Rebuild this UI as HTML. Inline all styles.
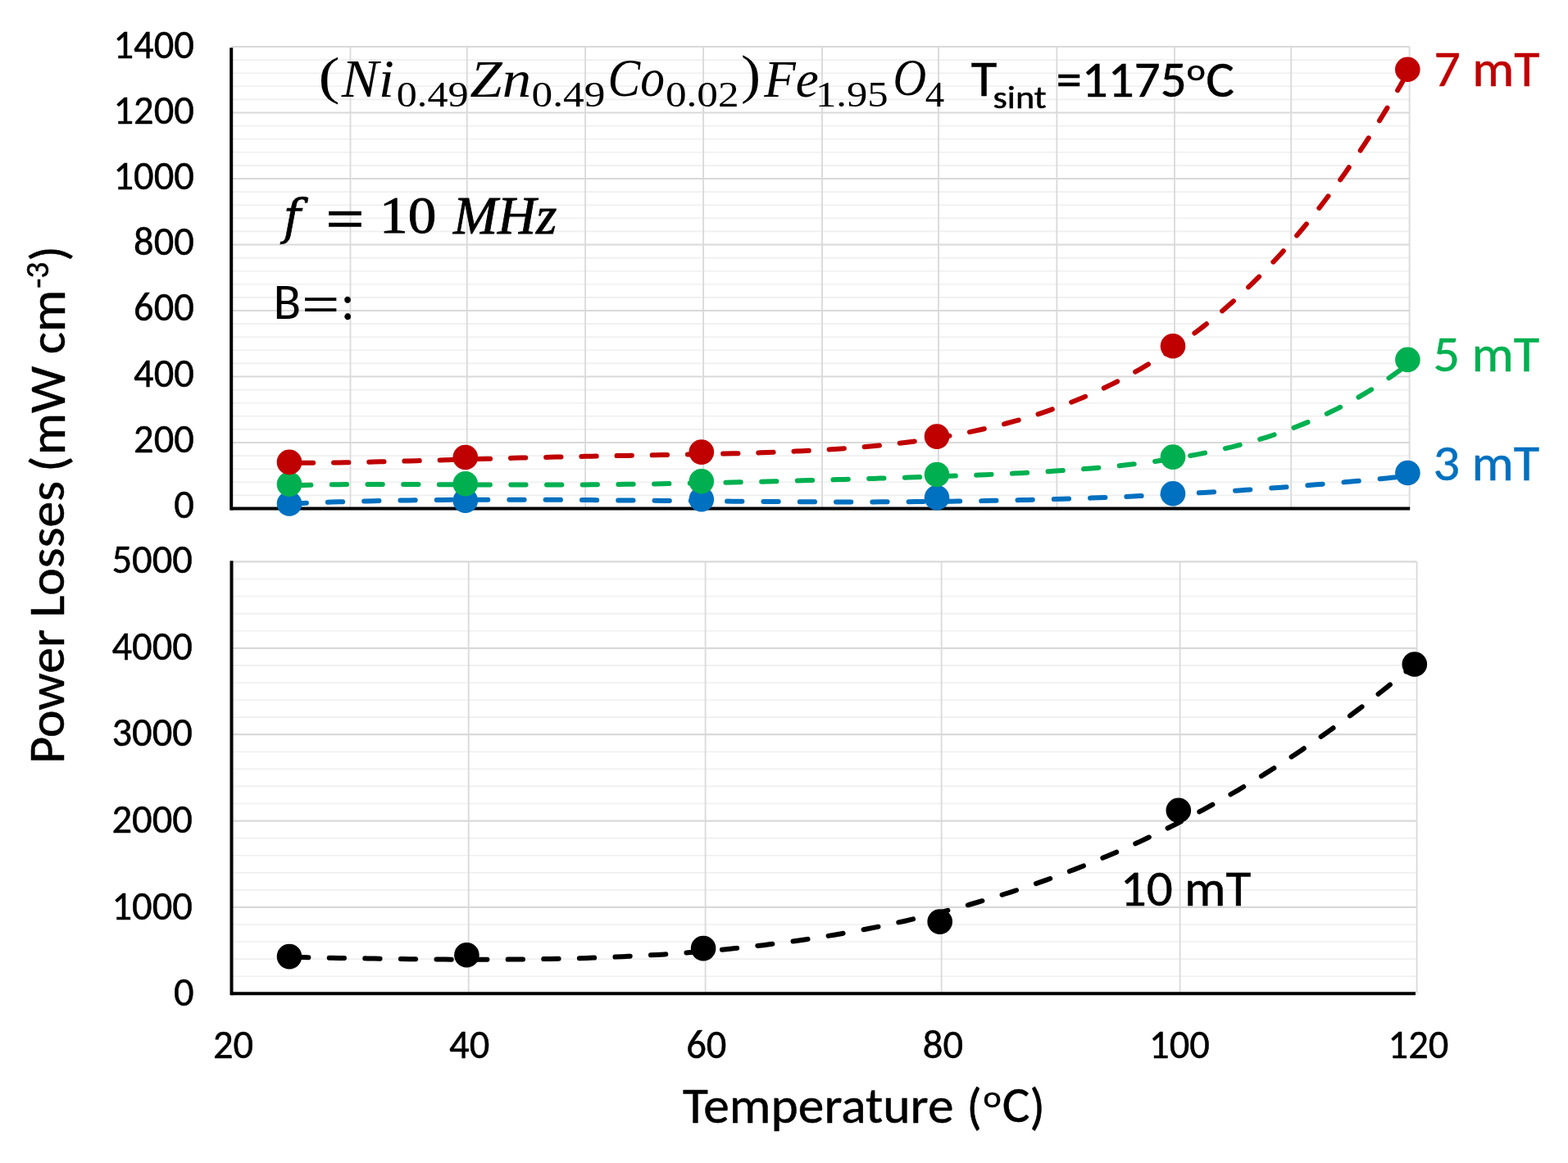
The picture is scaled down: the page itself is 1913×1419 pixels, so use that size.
<!DOCTYPE html>
<html><head><meta charset="utf-8"><title>Power Losses vs Temperature</title>
<style>
html,body{margin:0;padding:0;background:#fff;overflow:hidden}
svg{display:block}
text{font-family:Carlito,"Liberation Sans",sans-serif;stroke-width:0.5px}
.c{font-family:Carlito,"Liberation Sans",sans-serif}
.m{font-family:"Liberation Serif",serif;font-style:italic;stroke-width:0}
.u{font-family:"Liberation Serif",serif;font-style:normal;stroke-width:0}
.d{font-family:"DejaVu Serif",serif;font-style:normal;stroke-width:0}
.ls{font-family:"Liberation Sans",sans-serif}
</style></head><body>
<svg width="1913" height="1419" viewBox="0 0 1913 1419">
<rect width="1913" height="1419" fill="#fff"/>
<line x1="282.2" y1="604.40" x2="1719.6" y2="604.40" stroke="#efefef" stroke-width="1.6"/>
<line x1="282.2" y1="588.30" x2="1719.6" y2="588.30" stroke="#efefef" stroke-width="1.6"/>
<line x1="282.2" y1="572.20" x2="1719.6" y2="572.20" stroke="#efefef" stroke-width="1.6"/>
<line x1="282.2" y1="556.10" x2="1719.6" y2="556.10" stroke="#efefef" stroke-width="1.6"/>
<line x1="282.2" y1="523.90" x2="1719.6" y2="523.90" stroke="#efefef" stroke-width="1.6"/>
<line x1="282.2" y1="507.80" x2="1719.6" y2="507.80" stroke="#efefef" stroke-width="1.6"/>
<line x1="282.2" y1="491.70" x2="1719.6" y2="491.70" stroke="#efefef" stroke-width="1.6"/>
<line x1="282.2" y1="475.60" x2="1719.6" y2="475.60" stroke="#efefef" stroke-width="1.6"/>
<line x1="282.2" y1="443.40" x2="1719.6" y2="443.40" stroke="#efefef" stroke-width="1.6"/>
<line x1="282.2" y1="427.30" x2="1719.6" y2="427.30" stroke="#efefef" stroke-width="1.6"/>
<line x1="282.2" y1="411.20" x2="1719.6" y2="411.20" stroke="#efefef" stroke-width="1.6"/>
<line x1="282.2" y1="395.10" x2="1719.6" y2="395.10" stroke="#efefef" stroke-width="1.6"/>
<line x1="282.2" y1="362.90" x2="1719.6" y2="362.90" stroke="#efefef" stroke-width="1.6"/>
<line x1="282.2" y1="346.80" x2="1719.6" y2="346.80" stroke="#efefef" stroke-width="1.6"/>
<line x1="282.2" y1="330.70" x2="1719.6" y2="330.70" stroke="#efefef" stroke-width="1.6"/>
<line x1="282.2" y1="314.60" x2="1719.6" y2="314.60" stroke="#efefef" stroke-width="1.6"/>
<line x1="282.2" y1="282.40" x2="1719.6" y2="282.40" stroke="#efefef" stroke-width="1.6"/>
<line x1="282.2" y1="266.30" x2="1719.6" y2="266.30" stroke="#efefef" stroke-width="1.6"/>
<line x1="282.2" y1="250.20" x2="1719.6" y2="250.20" stroke="#efefef" stroke-width="1.6"/>
<line x1="282.2" y1="234.10" x2="1719.6" y2="234.10" stroke="#efefef" stroke-width="1.6"/>
<line x1="282.2" y1="201.90" x2="1719.6" y2="201.90" stroke="#efefef" stroke-width="1.6"/>
<line x1="282.2" y1="185.80" x2="1719.6" y2="185.80" stroke="#efefef" stroke-width="1.6"/>
<line x1="282.2" y1="169.70" x2="1719.6" y2="169.70" stroke="#efefef" stroke-width="1.6"/>
<line x1="282.2" y1="153.60" x2="1719.6" y2="153.60" stroke="#efefef" stroke-width="1.6"/>
<line x1="282.2" y1="121.40" x2="1719.6" y2="121.40" stroke="#efefef" stroke-width="1.6"/>
<line x1="282.2" y1="105.30" x2="1719.6" y2="105.30" stroke="#efefef" stroke-width="1.6"/>
<line x1="282.2" y1="89.20" x2="1719.6" y2="89.20" stroke="#efefef" stroke-width="1.6"/>
<line x1="282.2" y1="73.10" x2="1719.6" y2="73.10" stroke="#efefef" stroke-width="1.6"/>
<line x1="427.50" y1="57.0" x2="427.50" y2="620.5" stroke="#d9d9d9" stroke-width="1.8"/>
<line x1="569.80" y1="57.0" x2="569.80" y2="620.5" stroke="#d9d9d9" stroke-width="1.8"/>
<line x1="714.10" y1="57.0" x2="714.10" y2="620.5" stroke="#d9d9d9" stroke-width="1.8"/>
<line x1="858.10" y1="57.0" x2="858.10" y2="620.5" stroke="#d9d9d9" stroke-width="1.8"/>
<line x1="1003.00" y1="57.0" x2="1003.00" y2="620.5" stroke="#d9d9d9" stroke-width="1.8"/>
<line x1="1145.00" y1="57.0" x2="1145.00" y2="620.5" stroke="#d9d9d9" stroke-width="1.8"/>
<line x1="1289.40" y1="57.0" x2="1289.40" y2="620.5" stroke="#d9d9d9" stroke-width="1.8"/>
<line x1="1433.00" y1="57.0" x2="1433.00" y2="620.5" stroke="#d9d9d9" stroke-width="1.8"/>
<line x1="1575.20" y1="57.0" x2="1575.20" y2="620.5" stroke="#d9d9d9" stroke-width="1.8"/>
<line x1="1719.60" y1="57.0" x2="1719.60" y2="620.5" stroke="#d9d9d9" stroke-width="1.8"/>
<line x1="282.2" y1="540.00" x2="1719.6" y2="540.00" stroke="#d9d9d9" stroke-width="2.2"/>
<line x1="282.2" y1="459.50" x2="1719.6" y2="459.50" stroke="#d9d9d9" stroke-width="2.2"/>
<line x1="282.2" y1="379.00" x2="1719.6" y2="379.00" stroke="#d9d9d9" stroke-width="2.2"/>
<line x1="282.2" y1="298.50" x2="1719.6" y2="298.50" stroke="#d9d9d9" stroke-width="2.2"/>
<line x1="282.2" y1="218.00" x2="1719.6" y2="218.00" stroke="#d9d9d9" stroke-width="2.2"/>
<line x1="282.2" y1="137.50" x2="1719.6" y2="137.50" stroke="#d9d9d9" stroke-width="2.2"/>
<line x1="282.2" y1="57.00" x2="1719.6" y2="57.00" stroke="#d9d9d9" stroke-width="2.2"/>
<line x1="282.5" y1="1191.22" x2="1728.6" y2="1191.22" stroke="#efefef" stroke-width="1.6"/>
<line x1="282.5" y1="1170.15" x2="1728.6" y2="1170.15" stroke="#efefef" stroke-width="1.6"/>
<line x1="282.5" y1="1149.07" x2="1728.6" y2="1149.07" stroke="#efefef" stroke-width="1.6"/>
<line x1="282.5" y1="1128.00" x2="1728.6" y2="1128.00" stroke="#efefef" stroke-width="1.6"/>
<line x1="282.5" y1="1085.84" x2="1728.6" y2="1085.84" stroke="#efefef" stroke-width="1.6"/>
<line x1="282.5" y1="1064.77" x2="1728.6" y2="1064.77" stroke="#efefef" stroke-width="1.6"/>
<line x1="282.5" y1="1043.69" x2="1728.6" y2="1043.69" stroke="#efefef" stroke-width="1.6"/>
<line x1="282.5" y1="1022.62" x2="1728.6" y2="1022.62" stroke="#efefef" stroke-width="1.6"/>
<line x1="282.5" y1="980.46" x2="1728.6" y2="980.46" stroke="#efefef" stroke-width="1.6"/>
<line x1="282.5" y1="959.39" x2="1728.6" y2="959.39" stroke="#efefef" stroke-width="1.6"/>
<line x1="282.5" y1="938.31" x2="1728.6" y2="938.31" stroke="#efefef" stroke-width="1.6"/>
<line x1="282.5" y1="917.24" x2="1728.6" y2="917.24" stroke="#efefef" stroke-width="1.6"/>
<line x1="282.5" y1="875.08" x2="1728.6" y2="875.08" stroke="#efefef" stroke-width="1.6"/>
<line x1="282.5" y1="854.01" x2="1728.6" y2="854.01" stroke="#efefef" stroke-width="1.6"/>
<line x1="282.5" y1="832.93" x2="1728.6" y2="832.93" stroke="#efefef" stroke-width="1.6"/>
<line x1="282.5" y1="811.86" x2="1728.6" y2="811.86" stroke="#efefef" stroke-width="1.6"/>
<line x1="282.5" y1="769.70" x2="1728.6" y2="769.70" stroke="#efefef" stroke-width="1.6"/>
<line x1="282.5" y1="748.63" x2="1728.6" y2="748.63" stroke="#efefef" stroke-width="1.6"/>
<line x1="282.5" y1="727.55" x2="1728.6" y2="727.55" stroke="#efefef" stroke-width="1.6"/>
<line x1="282.5" y1="706.48" x2="1728.6" y2="706.48" stroke="#efefef" stroke-width="1.6"/>
<line x1="571.70" y1="685.4" x2="571.70" y2="1212.3" stroke="#d9d9d9" stroke-width="1.8"/>
<line x1="860.60" y1="685.4" x2="860.60" y2="1212.3" stroke="#d9d9d9" stroke-width="1.8"/>
<line x1="1148.60" y1="685.4" x2="1148.60" y2="1212.3" stroke="#d9d9d9" stroke-width="1.8"/>
<line x1="1439.60" y1="685.4" x2="1439.60" y2="1212.3" stroke="#d9d9d9" stroke-width="1.8"/>
<line x1="1728.60" y1="685.4" x2="1728.60" y2="1212.3" stroke="#d9d9d9" stroke-width="1.8"/>
<line x1="282.5" y1="1106.92" x2="1728.6" y2="1106.92" stroke="#d9d9d9" stroke-width="2.2"/>
<line x1="282.5" y1="1001.54" x2="1728.6" y2="1001.54" stroke="#d9d9d9" stroke-width="2.2"/>
<line x1="282.5" y1="896.16" x2="1728.6" y2="896.16" stroke="#d9d9d9" stroke-width="2.2"/>
<line x1="282.5" y1="790.78" x2="1728.6" y2="790.78" stroke="#d9d9d9" stroke-width="2.2"/>
<line x1="282.5" y1="685.40" x2="1728.6" y2="685.40" stroke="#d9d9d9" stroke-width="2.2"/>
<line x1="282.2" y1="58.2" x2="282.2" y2="622.5" stroke="#000" stroke-width="4"/>
<line x1="281.7" y1="620.50" x2="1720.2" y2="620.50" stroke="#000" stroke-width="3.9"/>
<line x1="282.5" y1="684.2" x2="282.5" y2="1214.3" stroke="#000" stroke-width="4"/>
<line x1="282.0" y1="1212.30" x2="1727.0" y2="1212.30" stroke="#000" stroke-width="3.9"/>
<path d="M353.0,564.7 L361.6,564.7 L370.2,564.7 L378.7,564.7 L387.3,564.7 L395.9,564.6 L404.5,564.5 L413.1,564.4 L421.6,564.2 L430.2,564.1 L438.8,563.9 L447.4,563.7 L456.0,563.5 L464.5,563.3 L473.1,563.1 L481.7,562.9 L490.3,562.7 L498.9,562.4 L507.4,562.2 L516.0,562.0 L524.6,561.7 L533.2,561.5 L541.8,561.2 L550.4,561.0 L558.9,560.7 L567.5,560.5 L576.1,560.2 L584.7,560.0 L593.3,559.8 L601.8,559.5 L610.4,559.3 L619.0,559.0 L627.6,558.8 L636.2,558.6 L644.7,558.4 L653.3,558.2 L661.9,558.0 L670.5,557.8 L679.1,557.6 L687.6,557.4 L696.2,557.2 L704.8,557.0 L713.4,556.8 L722.0,556.7 L730.5,556.5 L739.1,556.3 L747.7,556.2 L756.3,556.0 L764.9,555.9 L773.4,555.7 L782.0,555.6 L790.6,555.4 L799.2,555.3 L807.8,555.1 L816.3,555.0 L824.9,554.8 L833.5,554.6 L842.1,554.5 L850.7,554.3 L859.2,554.1 L867.8,553.9 L876.4,553.7 L885.0,553.5 L893.6,553.3 L902.2,553.1 L910.7,552.9 L919.3,552.6 L927.9,552.3 L936.5,552.0 L945.1,551.7 L953.6,551.4 L962.2,551.0 L970.8,550.6 L979.4,550.2 L988.0,549.8 L996.5,549.3 L1005.1,548.8 L1013.7,548.3 L1022.3,547.7 L1030.9,547.1 L1039.4,546.4 L1048.0,545.7 L1056.6,545.0 L1065.2,544.2 L1073.8,543.4 L1082.3,542.5 L1090.9,541.5 L1099.5,540.5 L1108.1,539.4 L1116.7,538.3 L1125.2,537.1 L1133.8,535.8 L1142.4,534.5 L1151.0,533.1 L1159.6,531.6 L1168.1,530.0 L1176.7,528.4 L1185.3,526.6 L1193.9,524.8 L1202.5,522.9 L1211.1,520.9 L1219.6,518.8 L1228.2,516.5 L1236.8,514.2 L1245.4,511.8 L1254.0,509.2 L1262.5,506.6 L1271.1,503.8 L1279.7,500.9 L1288.3,497.9 L1296.9,494.7 L1305.4,491.4 L1314.0,488.0 L1322.6,484.4 L1331.2,480.7 L1339.8,476.8 L1348.3,472.8 L1356.9,468.6 L1365.5,464.3 L1374.1,459.8 L1382.7,455.1 L1391.2,450.3 L1399.8,445.2 L1408.4,440.0 L1417.0,434.6 L1425.6,429.0 L1434.1,423.2 L1442.7,417.2 L1451.3,411.0 L1459.9,404.6 L1468.5,398.0 L1477.0,391.2 L1485.6,384.1 L1494.2,376.8 L1502.8,369.2 L1511.4,361.5 L1519.9,353.4 L1528.5,345.2 L1537.1,336.6 L1545.7,327.8 L1554.3,318.8 L1562.9,309.5 L1571.4,299.8 L1580.0,290.0 L1588.6,279.8 L1597.2,269.3 L1605.8,258.5 L1614.3,247.5 L1622.9,236.1 L1631.5,224.4 L1640.1,212.4 L1648.7,200.0 L1657.2,187.3 L1665.8,174.3 L1674.4,160.9 L1683.0,147.2 L1691.6,133.1 L1700.1,118.7 L1708.7,103.9 L1717.3,88.7" fill="none" stroke="#c00000" stroke-width="6" stroke-dasharray="18.3 24.90" stroke-dashoffset="32.35" stroke-linecap="round" stroke-linejoin="round"/>
<path d="M353.0,592.6 L361.6,592.3 L370.2,592.0 L378.7,591.8 L387.3,591.6 L395.9,591.4 L404.5,591.3 L413.1,591.2 L421.6,591.1 L430.2,591.0 L438.8,591.0 L447.4,590.9 L456.0,590.9 L464.6,590.9 L473.1,590.9 L481.7,590.9 L490.3,590.9 L498.9,591.0 L507.5,591.0 L516.0,591.1 L524.6,591.1 L533.2,591.1 L541.8,591.2 L550.4,591.2 L558.9,591.3 L567.5,591.3 L576.1,591.4 L584.7,591.4 L593.3,591.5 L601.9,591.5 L610.4,591.5 L619.0,591.6 L627.6,591.6 L636.2,591.6 L644.8,591.6 L653.3,591.6 L661.9,591.6 L670.5,591.6 L679.1,591.5 L687.7,591.5 L696.2,591.5 L704.8,591.4 L713.4,591.4 L722.0,591.3 L730.6,591.2 L739.2,591.1 L747.7,591.0 L756.3,591.0 L764.9,590.8 L773.5,590.7 L782.1,590.6 L790.6,590.5 L799.2,590.4 L807.8,590.2 L816.4,590.1 L825.0,589.9 L833.5,589.8 L842.1,589.6 L850.7,589.4 L859.3,589.2 L867.9,589.1 L876.4,588.9 L885.0,588.7 L893.6,588.5 L902.2,588.3 L910.8,588.1 L919.4,587.9 L927.9,587.7 L936.5,587.4 L945.1,587.2 L953.7,587.0 L962.3,586.8 L970.8,586.5 L979.4,586.3 L988.0,586.1 L996.6,585.9 L1005.2,585.6 L1013.7,585.4 L1022.3,585.1 L1030.9,584.9 L1039.5,584.6 L1048.1,584.4 L1056.7,584.1 L1065.2,583.9 L1073.8,583.6 L1082.4,583.4 L1091.0,583.1 L1099.6,582.9 L1108.1,582.6 L1116.7,582.3 L1125.3,582.0 L1133.9,581.7 L1142.5,581.4 L1151.0,581.1 L1159.6,580.8 L1168.2,580.5 L1176.8,580.2 L1185.4,579.9 L1194.0,579.5 L1202.5,579.2 L1211.1,578.8 L1219.7,578.4 L1228.3,578.0 L1236.9,577.6 L1245.4,577.2 L1254.0,576.7 L1262.6,576.2 L1271.2,575.7 L1279.8,575.2 L1288.3,574.6 L1296.9,574.1 L1305.5,573.5 L1314.1,572.8 L1322.7,572.1 L1331.2,571.4 L1339.8,570.7 L1348.4,569.9 L1357.0,569.1 L1365.6,568.2 L1374.2,567.2 L1382.7,566.3 L1391.3,565.2 L1399.9,564.1 L1408.5,563.0 L1417.1,561.8 L1425.6,560.5 L1434.2,559.1 L1442.8,557.7 L1451.4,556.2 L1460.0,554.6 L1468.5,552.9 L1477.1,551.1 L1485.7,549.3 L1494.3,547.3 L1502.9,545.3 L1511.5,543.1 L1520.0,540.8 L1528.6,538.4 L1537.2,535.9 L1545.8,533.3 L1554.4,530.5 L1562.9,527.6 L1571.5,524.5 L1580.1,521.3 L1588.7,517.9 L1597.3,514.4 L1605.8,510.7 L1614.4,506.9 L1623.0,502.8 L1631.6,498.6 L1640.2,494.2 L1648.8,489.6 L1657.3,484.8 L1665.9,479.7 L1674.5,474.5 L1683.1,469.0 L1691.7,463.3 L1700.2,457.3 L1708.8,451.1 L1717.4,444.6" fill="none" stroke="#00b050" stroke-width="6" stroke-dasharray="18.3 25.40" stroke-dashoffset="35.60" stroke-linecap="round" stroke-linejoin="round"/>
<path d="M353.0,614.6 L361.6,614.2 L370.2,613.9 L378.7,613.5 L387.3,613.2 L395.9,612.9 L404.5,612.6 L413.1,612.3 L421.6,612.1 L430.2,611.8 L438.8,611.6 L447.4,611.4 L456.0,611.2 L464.6,611.0 L473.1,610.8 L481.7,610.7 L490.3,610.5 L498.9,610.4 L507.5,610.3 L516.0,610.2 L524.6,610.1 L533.2,610.0 L541.8,609.9 L550.4,609.8 L558.9,609.8 L567.5,609.7 L576.1,609.7 L584.7,609.7 L593.3,609.7 L601.9,609.6 L610.4,609.6 L619.0,609.6 L627.6,609.7 L636.2,609.7 L644.8,609.7 L653.3,609.7 L661.9,609.8 L670.5,609.8 L679.1,609.8 L687.7,609.9 L696.2,609.9 L704.8,610.0 L713.4,610.1 L722.0,610.1 L730.6,610.2 L739.2,610.3 L747.7,610.3 L756.3,610.4 L764.9,610.5 L773.5,610.6 L782.1,610.7 L790.6,610.7 L799.2,610.8 L807.8,610.9 L816.4,611.0 L825.0,611.1 L833.5,611.2 L842.1,611.2 L850.7,611.3 L859.3,611.4 L867.9,611.5 L876.4,611.6 L885.0,611.6 L893.6,611.7 L902.2,611.8 L910.8,611.8 L919.4,611.9 L927.9,612.0 L936.5,612.0 L945.1,612.1 L953.7,612.1 L962.3,612.2 L970.8,612.2 L979.4,612.3 L988.0,612.3 L996.6,612.3 L1005.2,612.3 L1013.7,612.4 L1022.3,612.4 L1030.9,612.4 L1039.5,612.4 L1048.1,612.4 L1056.7,612.4 L1065.2,612.4 L1073.8,612.3 L1082.4,612.3 L1091.0,612.3 L1099.6,612.2 L1108.1,612.2 L1116.7,612.1 L1125.3,612.0 L1133.9,611.9 L1142.5,611.9 L1151.0,611.8 L1159.6,611.7 L1168.2,611.5 L1176.8,611.4 L1185.4,611.3 L1194.0,611.2 L1202.5,611.0 L1211.1,610.8 L1219.7,610.7 L1228.3,610.5 L1236.9,610.3 L1245.4,610.1 L1254.0,609.9 L1262.6,609.7 L1271.2,609.5 L1279.8,609.2 L1288.3,609.0 L1296.9,608.7 L1305.5,608.4 L1314.1,608.2 L1322.7,607.9 L1331.2,607.6 L1339.8,607.2 L1348.4,606.9 L1357.0,606.6 L1365.6,606.2 L1374.2,605.9 L1382.7,605.5 L1391.3,605.1 L1399.9,604.7 L1408.5,604.3 L1417.1,603.9 L1425.6,603.4 L1434.2,603.0 L1442.8,602.5 L1451.4,602.0 L1460.0,601.5 L1468.5,601.0 L1477.1,600.5 L1485.7,600.0 L1494.3,599.5 L1502.9,598.9 L1511.5,598.4 L1520.0,597.8 L1528.6,597.2 L1537.2,596.6 L1545.8,596.0 L1554.4,595.3 L1562.9,594.7 L1571.5,594.1 L1580.1,593.4 L1588.7,592.7 L1597.3,592.0 L1605.8,591.3 L1614.4,590.6 L1623.0,589.8 L1631.6,589.1 L1640.2,588.3 L1648.8,587.6 L1657.3,586.8 L1665.9,586.0 L1674.5,585.2 L1683.1,584.3 L1691.7,583.5 L1700.2,582.6 L1708.8,581.8 L1717.4,580.9" fill="none" stroke="#0070c0" stroke-width="6" stroke-dasharray="18.3 26.00" stroke-dashoffset="41.70" stroke-linecap="round" stroke-linejoin="round"/>
<path d="M353.0,1167.8 L361.6,1168.0 L370.3,1168.1 L378.9,1168.3 L387.5,1168.4 L396.2,1168.6 L404.8,1168.7 L413.4,1168.9 L422.1,1169.0 L430.7,1169.1 L439.3,1169.3 L448.0,1169.4 L456.6,1169.6 L465.2,1169.7 L473.9,1169.8 L482.5,1169.9 L491.1,1170.1 L499.8,1170.2 L508.4,1170.3 L517.0,1170.4 L525.7,1170.5 L534.3,1170.5 L542.9,1170.6 L551.6,1170.7 L560.2,1170.7 L568.8,1170.7 L577.5,1170.8 L586.1,1170.8 L594.8,1170.8 L603.4,1170.7 L612.0,1170.7 L620.7,1170.6 L629.3,1170.6 L637.9,1170.5 L646.6,1170.4 L655.2,1170.3 L663.8,1170.1 L672.5,1170.0 L681.1,1169.8 L689.7,1169.6 L698.4,1169.4 L707.0,1169.2 L715.6,1168.9 L724.3,1168.6 L732.9,1168.3 L741.5,1168.0 L750.2,1167.6 L758.8,1167.2 L767.4,1166.8 L776.1,1166.4 L784.7,1165.9 L793.3,1165.4 L802.0,1164.9 L810.6,1164.4 L819.2,1163.8 L827.9,1163.2 L836.5,1162.5 L845.1,1161.8 L853.8,1161.1 L862.4,1160.4 L871.0,1159.6 L879.7,1158.8 L888.3,1158.0 L896.9,1157.1 L905.6,1156.2 L914.2,1155.2 L922.8,1154.2 L931.5,1153.2 L940.1,1152.1 L948.7,1151.0 L957.4,1149.9 L966.0,1148.7 L974.6,1147.5 L983.3,1146.2 L991.9,1144.9 L1000.5,1143.5 L1009.2,1142.1 L1017.8,1140.7 L1026.4,1139.2 L1035.1,1137.7 L1043.7,1136.1 L1052.4,1134.5 L1061.0,1132.8 L1069.6,1131.1 L1078.3,1129.3 L1086.9,1127.5 L1095.5,1125.6 L1104.2,1123.7 L1112.8,1121.7 L1121.4,1119.7 L1130.1,1117.6 L1138.7,1115.5 L1147.3,1113.3 L1156.0,1111.0 L1164.6,1108.7 L1173.2,1106.4 L1181.9,1104.0 L1190.5,1101.5 L1199.1,1099.0 L1207.8,1096.4 L1216.4,1093.8 L1225.0,1091.0 L1233.7,1088.3 L1242.3,1085.5 L1250.9,1082.6 L1259.6,1079.6 L1268.2,1076.6 L1276.8,1073.6 L1285.5,1070.4 L1294.1,1067.2 L1302.7,1063.9 L1311.4,1060.6 L1320.0,1057.2 L1328.6,1053.8 L1337.3,1050.2 L1345.9,1046.6 L1354.5,1042.9 L1363.2,1039.2 L1371.8,1035.4 L1380.4,1031.5 L1389.1,1027.6 L1397.7,1023.5 L1406.3,1019.4 L1415.0,1015.3 L1423.6,1011.0 L1432.2,1006.7 L1440.9,1002.3 L1449.5,997.8 L1458.1,993.3 L1466.8,988.6 L1475.4,983.9 L1484.0,979.1 L1492.7,974.3 L1501.3,969.3 L1510.0,964.3 L1518.6,959.2 L1527.2,954.0 L1535.9,948.8 L1544.5,943.4 L1553.1,938.0 L1561.8,932.4 L1570.4,926.8 L1579.0,921.2 L1587.7,915.4 L1596.3,909.5 L1604.9,903.6 L1613.6,897.5 L1622.2,891.4 L1630.8,885.2 L1639.5,878.9 L1648.1,872.5 L1656.7,866.0 L1665.4,859.4 L1674.0,852.7 L1682.6,846.0 L1691.3,839.1 L1699.9,832.2 L1708.5,825.1 L1717.2,818.0 L1725.8,810.7" fill="none" stroke="#000000" stroke-width="6" stroke-dasharray="18.3 25.30" stroke-dashoffset="38.50" stroke-linecap="round" stroke-linejoin="round"/>
<circle cx="353.0" cy="614.5" r="15.3" fill="#0070c0"/>
<circle cx="567.8" cy="610.7" r="15.3" fill="#0070c0"/>
<circle cx="855.8" cy="609.3" r="15.3" fill="#0070c0"/>
<circle cx="1143.0" cy="607.3" r="15.3" fill="#0070c0"/>
<circle cx="1431.0" cy="602.3" r="15.3" fill="#0070c0"/>
<circle cx="1717.4" cy="577.0" r="15.3" fill="#0070c0"/>
<circle cx="353.0" cy="590.7" r="15.3" fill="#00b050"/>
<circle cx="567.8" cy="590.3" r="15.3" fill="#00b050"/>
<circle cx="855.8" cy="587.3" r="15.3" fill="#00b050"/>
<circle cx="1143.0" cy="579.0" r="15.3" fill="#00b050"/>
<circle cx="1431.0" cy="557.6" r="15.3" fill="#00b050"/>
<circle cx="1717.4" cy="438.9" r="15.3" fill="#00b050"/>
<circle cx="353.0" cy="563.9" r="15.3" fill="#c00000"/>
<circle cx="567.8" cy="558.0" r="15.3" fill="#c00000"/>
<circle cx="855.8" cy="551.6" r="15.3" fill="#c00000"/>
<circle cx="1143.0" cy="532.6" r="15.3" fill="#c00000"/>
<circle cx="1431.0" cy="422.2" r="15.3" fill="#c00000"/>
<circle cx="1717.3" cy="84.7" r="15.3" fill="#c00000"/>
<circle cx="353.0" cy="1167.1" r="15.3" fill="#000000"/>
<circle cx="569.4" cy="1165.3" r="15.3" fill="#000000"/>
<circle cx="858.1" cy="1157.1" r="15.3" fill="#000000"/>
<circle cx="1146.7" cy="1124.6" r="15.3" fill="#000000"/>
<circle cx="1437.8" cy="988.8" r="15.3" fill="#000000"/>
<circle cx="1725.8" cy="810.5" r="15.3" fill="#000000"/>
<g stroke="#000"><text class="u" x="388.45" y="113.80" font-size="63.58" fill="#000" stroke="#000" textLength="26.09" lengthAdjust="spacingAndGlyphs">(</text>
<text class="m" x="416.85" y="118.05" font-size="65.32" fill="#000" stroke="#000" textLength="63.88" lengthAdjust="spacingAndGlyphs">Ni</text>
<text class="u" x="483.80" y="130.35" font-size="44.15" fill="#000" stroke="#000" textLength="87.69" lengthAdjust="spacingAndGlyphs">0.49</text>
<text class="m" x="573.25" y="118.00" font-size="63.95" fill="#000" stroke="#000" textLength="74.81" lengthAdjust="spacingAndGlyphs">Zn</text>
<text class="u" x="648.55" y="130.35" font-size="44.15" fill="#000" stroke="#000" textLength="89.88" lengthAdjust="spacingAndGlyphs">0.49</text>
<text class="m" x="741.60" y="116.90" font-size="65.76" fill="#000" stroke="#000" textLength="69.39" lengthAdjust="spacingAndGlyphs">Co</text>
<text class="u" x="811.95" y="130.35" font-size="44.15" fill="#000" stroke="#000" textLength="89.63" lengthAdjust="spacingAndGlyphs">0.02</text>
<text class="u" x="903.90" y="113.30" font-size="64.67" fill="#000" stroke="#000" textLength="24.06" lengthAdjust="spacingAndGlyphs">)</text>
<text class="m" x="932.20" y="117.50" font-size="62.46" fill="#000" stroke="#000" textLength="66.48" lengthAdjust="spacingAndGlyphs">Fe</text>
<text class="u" x="995.00" y="130.35" font-size="44.15" fill="#000" stroke="#000" textLength="88.62" lengthAdjust="spacingAndGlyphs">1.95</text>
<text class="m" x="1089.40" y="116.45" font-size="64.12" fill="#000" stroke="#000" textLength="40.66" lengthAdjust="spacingAndGlyphs">O</text>
<text class="u" x="1128.85" y="130.35" font-size="44.15" fill="#000" stroke="#000" textLength="23.44" lengthAdjust="spacingAndGlyphs">4</text>
<text class="c" x="1184.85" y="117.40" font-size="62.40" fill="#000" stroke="#000" textLength="31.56" lengthAdjust="spacingAndGlyphs">T</text>
<text class="c" x="1211.55" y="132.45" font-size="38.81" fill="#000" stroke="#000" textLength="65.10" lengthAdjust="spacingAndGlyphs">sint</text>
<text class="c" x="1288.45" y="118.40" font-size="62.40" fill="#000" stroke="#000" textLength="159.34" lengthAdjust="spacingAndGlyphs">=1175</text>
<text class="c" x="1447.65" y="97.55" font-size="36.85" fill="#000" stroke="#000" textLength="22.96" lengthAdjust="spacingAndGlyphs">o</text>
<text class="c" x="1471.20" y="118.20" font-size="62.40" fill="#000" stroke="#000" textLength="34.66" lengthAdjust="spacingAndGlyphs">C</text>
<text class="d" x="345.40" y="285.60" font-size="59.96" fill="#000" stroke="#000" style="stroke-width:0.6px" textLength="21.82" lengthAdjust="spacingAndGlyphs">𝑓</text>
<text class="u" x="397.90" y="290.85" font-size="68.82" fill="#000" stroke="#000" style="stroke-width:1.6px" textLength="45.87" lengthAdjust="spacingAndGlyphs">=</text>
<text class="u" x="463.10" y="283.55" font-size="63.54" fill="#000" stroke="#000" style="stroke-width:0.9px" textLength="69.20" lengthAdjust="spacingAndGlyphs">10</text>
<text class="m" x="552.90" y="284.55" font-size="66.52" fill="#000" stroke="#000" style="stroke-width:0.9px" textLength="126.31" lengthAdjust="spacingAndGlyphs">MHz</text>
<text class="c" x="333.50" y="389.00" font-size="62.40" fill="#000" stroke="#000" style="stroke-width:0.01px" textLength="33.69" lengthAdjust="spacingAndGlyphs">B</text>
<text class="ls" x="368.15" y="389.00" font-size="51.60" fill="#000" stroke="#000" style="stroke-width:0.01px" textLength="46.02" lengthAdjust="spacingAndGlyphs">=</text>
<text class="c" x="416.35" y="389.50" font-size="62.40" fill="#000" stroke="#000" textLength="16.08" lengthAdjust="spacingAndGlyphs">:</text>
<text class="c" x="1749.50" y="104.90" font-size="62.40" fill="#c00000" stroke="#c00000" textLength="128.88" lengthAdjust="spacingAndGlyphs">7 mT</text>
<text class="c" x="1748.50" y="452.65" font-size="62.40" fill="#00b050" stroke="#00b050" textLength="129.50" lengthAdjust="spacingAndGlyphs">5 mT</text>
<text class="c" x="1748.50" y="585.80" font-size="62.40" fill="#0070c0" stroke="#0070c0" textLength="129.50" lengthAdjust="spacingAndGlyphs">3 mT</text>
<text class="c" x="1366.75" y="1104.80" font-size="62.40" fill="#000" stroke="#000" textLength="159.58" lengthAdjust="spacingAndGlyphs">10 mT</text>
<text class="c" x="832.95" y="1369.80" font-size="62.40" fill="#000" stroke="#000" textLength="330.55" lengthAdjust="spacingAndGlyphs">Temperature</text>
<text class="c" x="1179.40" y="1371.25" font-size="62.40" fill="#000" stroke="#000" textLength="18.23" lengthAdjust="spacingAndGlyphs">(</text>
<text class="c" x="1199.50" y="1350.60" font-size="37.85" fill="#000" stroke="#000" textLength="22.07" lengthAdjust="spacingAndGlyphs">o</text>
<text class="c" x="1222.70" y="1369.40" font-size="62.40" fill="#000" stroke="#000" textLength="33.74" lengthAdjust="spacingAndGlyphs">C</text>
<text class="c" x="1256.50" y="1371.25" font-size="62.40" fill="#000" stroke="#000" textLength="18.23" lengthAdjust="spacingAndGlyphs">)</text>
<text class="c" transform="translate(78.10,931.70) rotate(-90)" font-size="62.40" fill="#000" stroke="#000" textLength="344.91" lengthAdjust="spacingAndGlyphs">Power Losses</text>
<text class="c" transform="translate(79.95,575.90) rotate(-90)" font-size="62.40" fill="#000" stroke="#000" textLength="19.55" lengthAdjust="spacingAndGlyphs">(</text>
<text class="c" transform="translate(78.80,555.25) rotate(-90)" font-size="62.40" fill="#000" stroke="#000" textLength="201.64" lengthAdjust="spacingAndGlyphs">mW cm</text>
<text class="c" transform="translate(58.60,351.85) rotate(-90)" font-size="40.85" fill="#000" stroke="#000" textLength="32.21" lengthAdjust="spacingAndGlyphs">-3</text>
<text class="c" transform="translate(79.90,318.60) rotate(-90)" font-size="62.40" fill="#000" stroke="#000" textLength="18.23" lengthAdjust="spacingAndGlyphs">)</text>
<text class="c" x="236.9" y="632.18" font-size="48.5" text-anchor="end" textLength="24.59" lengthAdjust="spacingAndGlyphs">0</text>
<text class="c" x="236.9" y="551.94" font-size="48.5" text-anchor="end" textLength="73.78" lengthAdjust="spacingAndGlyphs">200</text>
<text class="c" x="236.9" y="471.70" font-size="48.5" text-anchor="end" textLength="73.78" lengthAdjust="spacingAndGlyphs">400</text>
<text class="c" x="236.9" y="391.46" font-size="48.5" text-anchor="end" textLength="73.78" lengthAdjust="spacingAndGlyphs">600</text>
<text class="c" x="236.9" y="311.22" font-size="48.5" text-anchor="end" textLength="73.78" lengthAdjust="spacingAndGlyphs">800</text>
<text class="c" x="236.9" y="230.98" font-size="48.5" text-anchor="end" textLength="98.38" lengthAdjust="spacingAndGlyphs">1000</text>
<text class="c" x="236.9" y="150.74" font-size="48.5" text-anchor="end" textLength="98.38" lengthAdjust="spacingAndGlyphs">1200</text>
<text class="c" x="236.9" y="70.50" font-size="48.5" text-anchor="end" textLength="98.38" lengthAdjust="spacingAndGlyphs">1400</text>
<text class="c" x="236.7" y="1227.40" font-size="48.5" text-anchor="end" textLength="24.59" lengthAdjust="spacingAndGlyphs">0</text>
<text class="c" x="234.9" y="1121.70" font-size="48.5" text-anchor="end" textLength="98.38" lengthAdjust="spacingAndGlyphs">1000</text>
<text class="c" x="234.9" y="1016.00" font-size="48.5" text-anchor="end" textLength="98.38" lengthAdjust="spacingAndGlyphs">2000</text>
<text class="c" x="234.9" y="910.30" font-size="48.5" text-anchor="end" textLength="98.38" lengthAdjust="spacingAndGlyphs">3000</text>
<text class="c" x="234.9" y="804.60" font-size="48.5" text-anchor="end" textLength="98.38" lengthAdjust="spacingAndGlyphs">4000</text>
<text class="c" x="234.9" y="698.90" font-size="48.5" text-anchor="end" textLength="98.38" lengthAdjust="spacingAndGlyphs">5000</text>
<text class="c" x="284.6" y="1290.8" font-size="48.5" text-anchor="middle" textLength="49.19" lengthAdjust="spacingAndGlyphs">20</text>
<text class="c" x="572.7" y="1290.8" font-size="48.5" text-anchor="middle" textLength="49.19" lengthAdjust="spacingAndGlyphs">40</text>
<text class="c" x="861.8" y="1290.8" font-size="48.5" text-anchor="middle" textLength="49.19" lengthAdjust="spacingAndGlyphs">60</text>
<text class="c" x="1150.4" y="1290.8" font-size="48.5" text-anchor="middle" textLength="49.19" lengthAdjust="spacingAndGlyphs">80</text>
<text class="c" x="1439" y="1290.8" font-size="48.5" text-anchor="middle" textLength="73.78" lengthAdjust="spacingAndGlyphs">100</text>
<text class="c" x="1730.5" y="1290.8" font-size="48.5" text-anchor="middle" textLength="73.78" lengthAdjust="spacingAndGlyphs">120</text></g>
</svg>
</body></html>
